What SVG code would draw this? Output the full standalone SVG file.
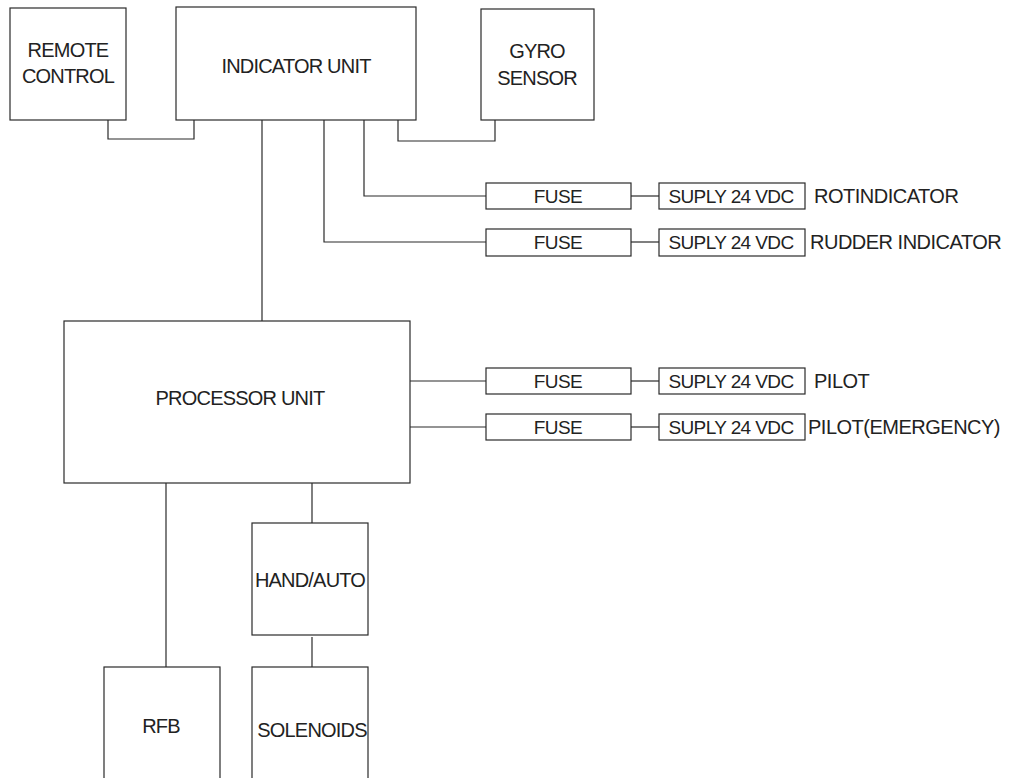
<svg xmlns="http://www.w3.org/2000/svg" width="1010" height="778" viewBox="0 0 1010 778">
<style>
.box{fill:#fff;stroke:#2a2a2a;stroke-width:1.2}
.wire{fill:none;stroke:#2a2a2a;stroke-width:1.2}
.t{font-family:"Liberation Sans",Arial,sans-serif;fill:#222;text-anchor:middle}
.big{font-size:20px;letter-spacing:-0.8px}
.sm{font-size:19px;letter-spacing:-0.6px}
.lab{font-family:"Liberation Sans",Arial,sans-serif;fill:#222;font-size:20px;letter-spacing:-0.5px}
</style>
<rect width="1010" height="778" fill="#fff"/>
<g id="connectors">
<polyline class="wire" points="108,120 108,139 194,139 194,120"/>
<polyline class="wire" points="398,120 398,141 495,141 495,120"/>
<line class="wire" x1="262" y1="120" x2="262" y2="321"/>
<polyline class="wire" points="364,120 364,196 486,196"/>
<line class="wire" x1="631" y1="196" x2="659" y2="196"/>
<polyline class="wire" points="324,120 324,242 486,242"/>
<line class="wire" x1="631" y1="242" x2="659" y2="242"/>
<line class="wire" x1="410" y1="381" x2="486" y2="381"/>
<line class="wire" x1="631" y1="381" x2="659" y2="381"/>
<line class="wire" x1="410" y1="427" x2="486" y2="427"/>
<line class="wire" x1="631" y1="427" x2="659" y2="427"/>
<line class="wire" x1="166" y1="483" x2="166" y2="667"/>
<line class="wire" x1="312" y1="483" x2="312" y2="523"/>
<line class="wire" x1="312" y1="637" x2="312" y2="667"/>
</g>
<g id="remote-control">
<rect class="box" x="10" y="8" width="116" height="112"/>
<text class="t big" x="68" y="57">REMOTE</text>
<text class="t big" x="68" y="83">CONTROL</text>
</g>
<g id="indicator-unit">
<rect class="box" x="176" y="7" width="240" height="113"/>
<text class="t big" x="296" y="73">INDICATOR UNIT</text>
</g>
<g id="gyro-sensor">
<rect class="box" x="481" y="9" width="113" height="111"/>
<text class="t big" x="537" y="58">GYRO</text>
<text class="t big" x="537" y="85">SENSOR</text>
</g>
<g id="fuse-rot">
<rect class="box" x="486" y="183" width="145" height="26"/>
<text class="t sm" x="558" y="203">FUSE</text>
</g>
<g id="supply-rot">
<rect class="box" x="659" y="183" width="146" height="26"/>
<text class="t sm" x="731" y="203">SUPLY 24 VDC</text>
</g>
<text class="lab" x="814" y="203">ROTINDICATOR</text>
<g id="fuse-rudder">
<rect class="box" x="486" y="229" width="145" height="27"/>
<text class="t sm" x="558" y="249">FUSE</text>
</g>
<g id="supply-rudder">
<rect class="box" x="659" y="229" width="146" height="27"/>
<text class="t sm" x="731" y="249">SUPLY 24 VDC</text>
</g>
<text class="lab" x="810" y="249">RUDDER INDICATOR</text>
<g id="processor-unit">
<rect class="box" x="64" y="321" width="346" height="162"/>
<text class="t big" x="240" y="405">PROCESSOR UNIT</text>
</g>
<g id="fuse-pilot">
<rect class="box" x="486" y="368" width="145" height="26"/>
<text class="t sm" x="558" y="388">FUSE</text>
</g>
<g id="supply-pilot">
<rect class="box" x="659" y="368" width="146" height="26"/>
<text class="t sm" x="731" y="388">SUPLY 24 VDC</text>
</g>
<text class="lab" x="814" y="388">PILOT</text>
<g id="fuse-pilot-emergency">
<rect class="box" x="486" y="414" width="145" height="26"/>
<text class="t sm" x="558" y="434">FUSE</text>
</g>
<g id="supply-pilot-emergency">
<rect class="box" x="659" y="414" width="146" height="26"/>
<text class="t sm" x="731" y="434">SUPLY 24 VDC</text>
</g>
<text class="lab" x="808" y="434">PILOT(EMERGENCY)</text>
<g id="hand-auto">
<rect class="box" x="252" y="523" width="116" height="112"/>
<text class="t big" x="310" y="587">HAND/AUTO</text>
</g>
<g id="rfb">
<rect class="box" x="104" y="667" width="116" height="130"/>
<text class="t big" x="161" y="733">RFB</text>
</g>
<g id="solenoids">
<rect class="box" x="252" y="667" width="116" height="130"/>
<text class="t big" x="312" y="737">SOLENOIDS</text>
</g>
</svg>
